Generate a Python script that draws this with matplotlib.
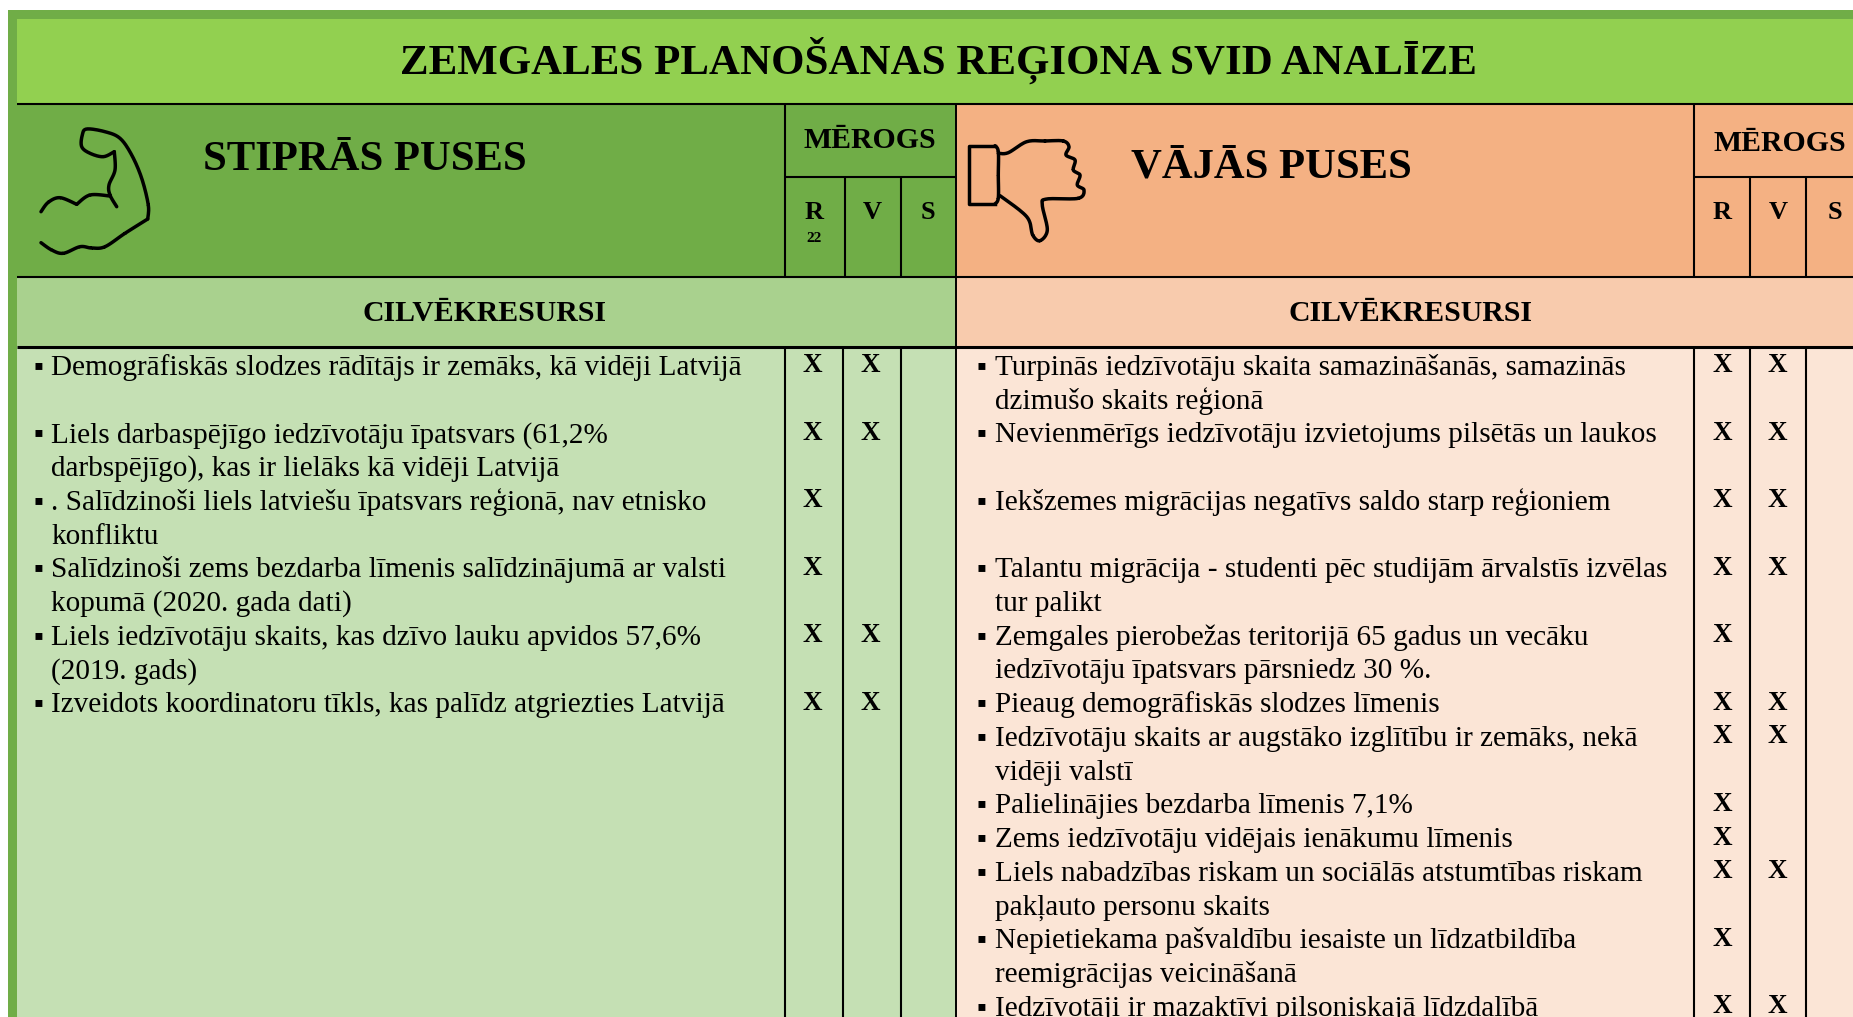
import numpy as np
import matplotlib
matplotlib.use("Agg")
import matplotlib.pyplot as plt
from matplotlib.patches import Rectangle

FONT = ['Liberation Serif', 'DejaVu Sans']
plt.rcParams['font.family'] = FONT

title = "ZEMGALES PLANOŠANAS REĢIONA SVID ANALĪZE"
left_head, right_head = "STIPRĀS PUSES", "VĀJĀS PUSES"
scale_head = "MĒROGS"
scale_cols = ["R", "V", "S"]
section = "CILVĒKRESURSI"

left_items = [
    ["Demogrāfiskās slodzes rādītājs ir zemāks, kā vidēji Latvijā"],
    ["Liels darbaspējīgo iedzīvotāju īpatsvars (61,2%", "darbspējīgo), kas ir lielāks kā vidēji Latvijā"],
    [". Salīdzinoši liels latviešu īpatsvars reģionā, nav etnisko", "konfliktu"],
    ["Salīdzinoši zems bezdarba līmenis salīdzinājumā ar valsti", "kopumā (2020. gada dati)"],
    ["Liels iedzīvotāju skaits, kas dzīvo lauku apvidos 57,6%", "(2019. gads)"],
    ["Izveidots koordinatoru tīkls, kas palīdz atgriezties Latvijā"],
]
left_spans = [2, 2, 2, 2, 2, 1]
left_R = [1, 1, 1, 1, 1, 1]
left_V = [1, 1, 0, 0, 1, 1]

right_items = [
    ["Turpinās iedzīvotāju skaita samazināšanās, samazinās", "dzimušo skaits reģionā"],
    ["Nevienmērīgs iedzīvotāju izvietojums pilsētās un laukos"],
    ["Iekšzemes migrācijas negatīvs saldo starp reģioniem"],
    ["Talantu migrācija - studenti pēc studijām ārvalstīs izvēlas", "tur palikt"],
    ["Zemgales pierobežas teritorijā 65 gadus un vecāku", "iedzīvotāju īpatsvars pārsniedz 30 %."],
    ["Pieaug demogrāfiskās slodzes līmenis"],
    ["Iedzīvotāju skaits ar augstāko izglītību ir zemāks, nekā", "vidēji valstī"],
    ["Palielinājies bezdarba līmenis 7,1%"],
    ["Zems iedzīvotāju vidējais ienākumu līmenis"],
    ["Liels nabadzības riskam un sociālās atstumtības riskam", "pakļauto personu skaits"],
    ["Nepietiekama pašvaldību iesaiste un līdzatbildība", "reemigrācijas veicināšanā"],
    ["Iedzīvotāji ir mazaktīvi pilsoniskajā līdzdalībā"],
]
right_spans = [2, 2, 2, 2, 2, 1, 2, 1, 1, 2, 2, 1]
right_R = [1] * 12
right_V = [1, 1, 1, 1, 0, 1, 1, 0, 0, 1, 0, 1]

W, H = 1853, 1017
fig = plt.figure(figsize=(W / 100, H / 100), dpi=100, facecolor='white')
ax = fig.add_axes([0, 0, 1, 1])
ax.set_xlim(0, W)
ax.set_ylim(H, 0)
ax.axis('off')


def rect(x0, y0, x1, y1, c):
    ax.add_patch(Rectangle((x0, y0), x1 - x0, y1 - y0, fc=c, ec='none', zorder=1))


def hline(y, x0, x1, lw=1.5):
    ax.plot([x0, x1], [y, y], color='#000000', lw=lw, zorder=3, solid_capstyle='butt')


def vline(x, y0, y1, lw=1.5):
    ax.plot([x, x], [y0, y1], color='#000000', lw=lw, zorder=3, solid_capstyle='butt')


def curve(pts, lw=2.5, n=14):
    """Smooth outline through hand-placed icon points (Catmull-Rom)."""
    p = np.array(pts, float)
    p = np.vstack([p[0], p, p[-1]])
    out = []
    for i in range(1, len(p) - 2):
        t = np.linspace(0, 1, n)[:, None]
        a, b, c, d = p[i - 1], p[i], p[i + 1], p[i + 2]
        out.append(0.5 * (2 * b + (c - a) * t + (2 * a - 5 * b + 4 * c - d) * t ** 2
                          + (3 * b - a - 3 * c + d) * t ** 3))
    out = np.vstack(out)
    ax.plot(out[:, 0], out[:, 1], color='black', lw=lw, zorder=4,
            solid_capstyle='round', solid_joinstyle='round')


# background panels
rect(8, 10, W, 19, '#70AD47')
rect(8, 10, 16.5, H, '#70AD47')
rect(16.5, 19, W, 103, '#92D050')
rect(16.5, 103, 956, 276, '#70AD47')
rect(956, 103, W, 276, '#F4B183')
rect(16.5, 276, 956, 346, '#A9D18E')
rect(956, 276, W, 346, '#F8CBAD')
rect(16.5, 346, 956, H, '#C5E0B4')
rect(956, 346, W, H, '#FBE5D6')

# grid lines
L_HEAD = [785, 845, 901]
L_BODY = [785, 843, 901]
R_COLS = [1694, 1750, 1806]
hline(103.5, 16.5, W)
hline(277, 16.5, W)
hline(347, 16.5, W, lw=2.2)
hline(176.5, L_HEAD[0], 955)
hline(176.5, R_COLS[0], W)
vline(956, 103, H, lw=1.4)
vline(L_HEAD[0], 103, 277)
vline(R_COLS[0], 103, 277)
for c in L_HEAD[1:] + R_COLS[1:]:
    vline(c, 176.5, 277)
for c in L_BODY + R_COLS:
    vline(c, 347, H)

TXT = dict(color='black', family=FONT, va='baseline')
ax.text(938, 74, title, ha='center', fontsize=30.9, fontweight='bold', **TXT)
ax.text(203, 170, left_head, ha='left', fontsize=30.7, fontweight='bold', **TXT)
ax.text(1131, 178, right_head, ha='left', fontsize=30.7, fontweight='bold', **TXT)
for cx, cy in [(870, 148), (1780, 151)]:
    ax.text(cx, cy, scale_head, ha='center', fontsize=21.4, fontweight='bold', **TXT)
for xs in ([814, 872, 928], [1722, 1778, 1835]):
    for x, s in zip(xs, scale_cols):
        ax.text(x, 219, s, ha='center', fontsize=19, fontweight='bold', **TXT)
ax.text(814, 242, "22", ha='center', fontsize=11, fontweight='bold', **TXT)
ax.text(484, 321, section, ha='center', fontsize=21.4, fontweight='bold', **TXT)
ax.text(1410, 321, section, ha='center', fontsize=21.4, fontweight='bold', **TXT)

# body rows
Y0, PITCH = 375.0, 33.72


def body(items, spans, rf, vf, bx, tx, xR, xV):
    line = 0
    for lines, sp, r, v in zip(items, spans, rf, vf):
        y = Y0 + line * PITCH
        ax.text(bx, y - 1, "▪", ha='center', fontsize=20, **TXT)
        for k, s in enumerate(lines):
            ax.text(tx, y + k * PITCH, s, ha='left', fontsize=21.1, **TXT)
        if r:
            ax.text(xR, y - 2.5, "X", ha='center', fontsize=19.5, fontweight='bold', **TXT)
        if v:
            ax.text(xV, y - 2.5, "X", ha='center', fontsize=19.5, fontweight='bold', **TXT)
        line += sp


body(left_items, left_spans, left_R, left_V, 38, 51, 812.5, 870.5)
body(right_items, right_spans, right_R, right_V, 981, 995, 1722, 1777)

# flexed-arm icon
curve([(116.7, 206.7), (110, 195), (109, 185), (115, 170), (114.3, 151.7)])
curve([(114.3, 151.7), (103.3, 156.7), (90, 153.3), (81.7, 146.7), (82.3, 135), (86.7, 129),
       (105, 131.7), (120, 138.3), (131.7, 155), (141.7, 178.3), (148.3, 205), (147.7, 219)])
curve([(147.7, 219), (125, 233.3), (105, 246.7), (91.7, 248), (80, 246.7), (63.3, 253.3),
       (51.7, 250), (41, 242.7)])
curve([(41, 211.7), (48.3, 202.3), (60, 197.7), (76.7, 204.3)])
curve([(76.7, 204.3), (90, 195), (110, 196)])

# thumbs-down icon
curve([(995, 145.7), (998.3, 151.7), (998.3, 175), (998.3, 198), (995, 204)])
ax.plot([995, 969.3, 969.3, 995], [145.7, 145.7, 204, 204], color='black', lw=2.5, zorder=4)
curve([(998.3, 153.3), (1008.3, 152.7), (1026.7, 141.7), (1045, 141), (1063.3, 141), (1069, 146.7),
       (1066, 155), (1075, 160), (1073.3, 170), (1080, 175), (1077.3, 185), (1084, 190),
       (1078.3, 198.3), (1046.7, 199), (1042.3, 205), (1047.3, 230), (1040, 240.7),
       (1032.7, 235), (1026.7, 216.7), (1000, 195.7)])

fig.savefig("out.png", dpi=100, facecolor='white')
